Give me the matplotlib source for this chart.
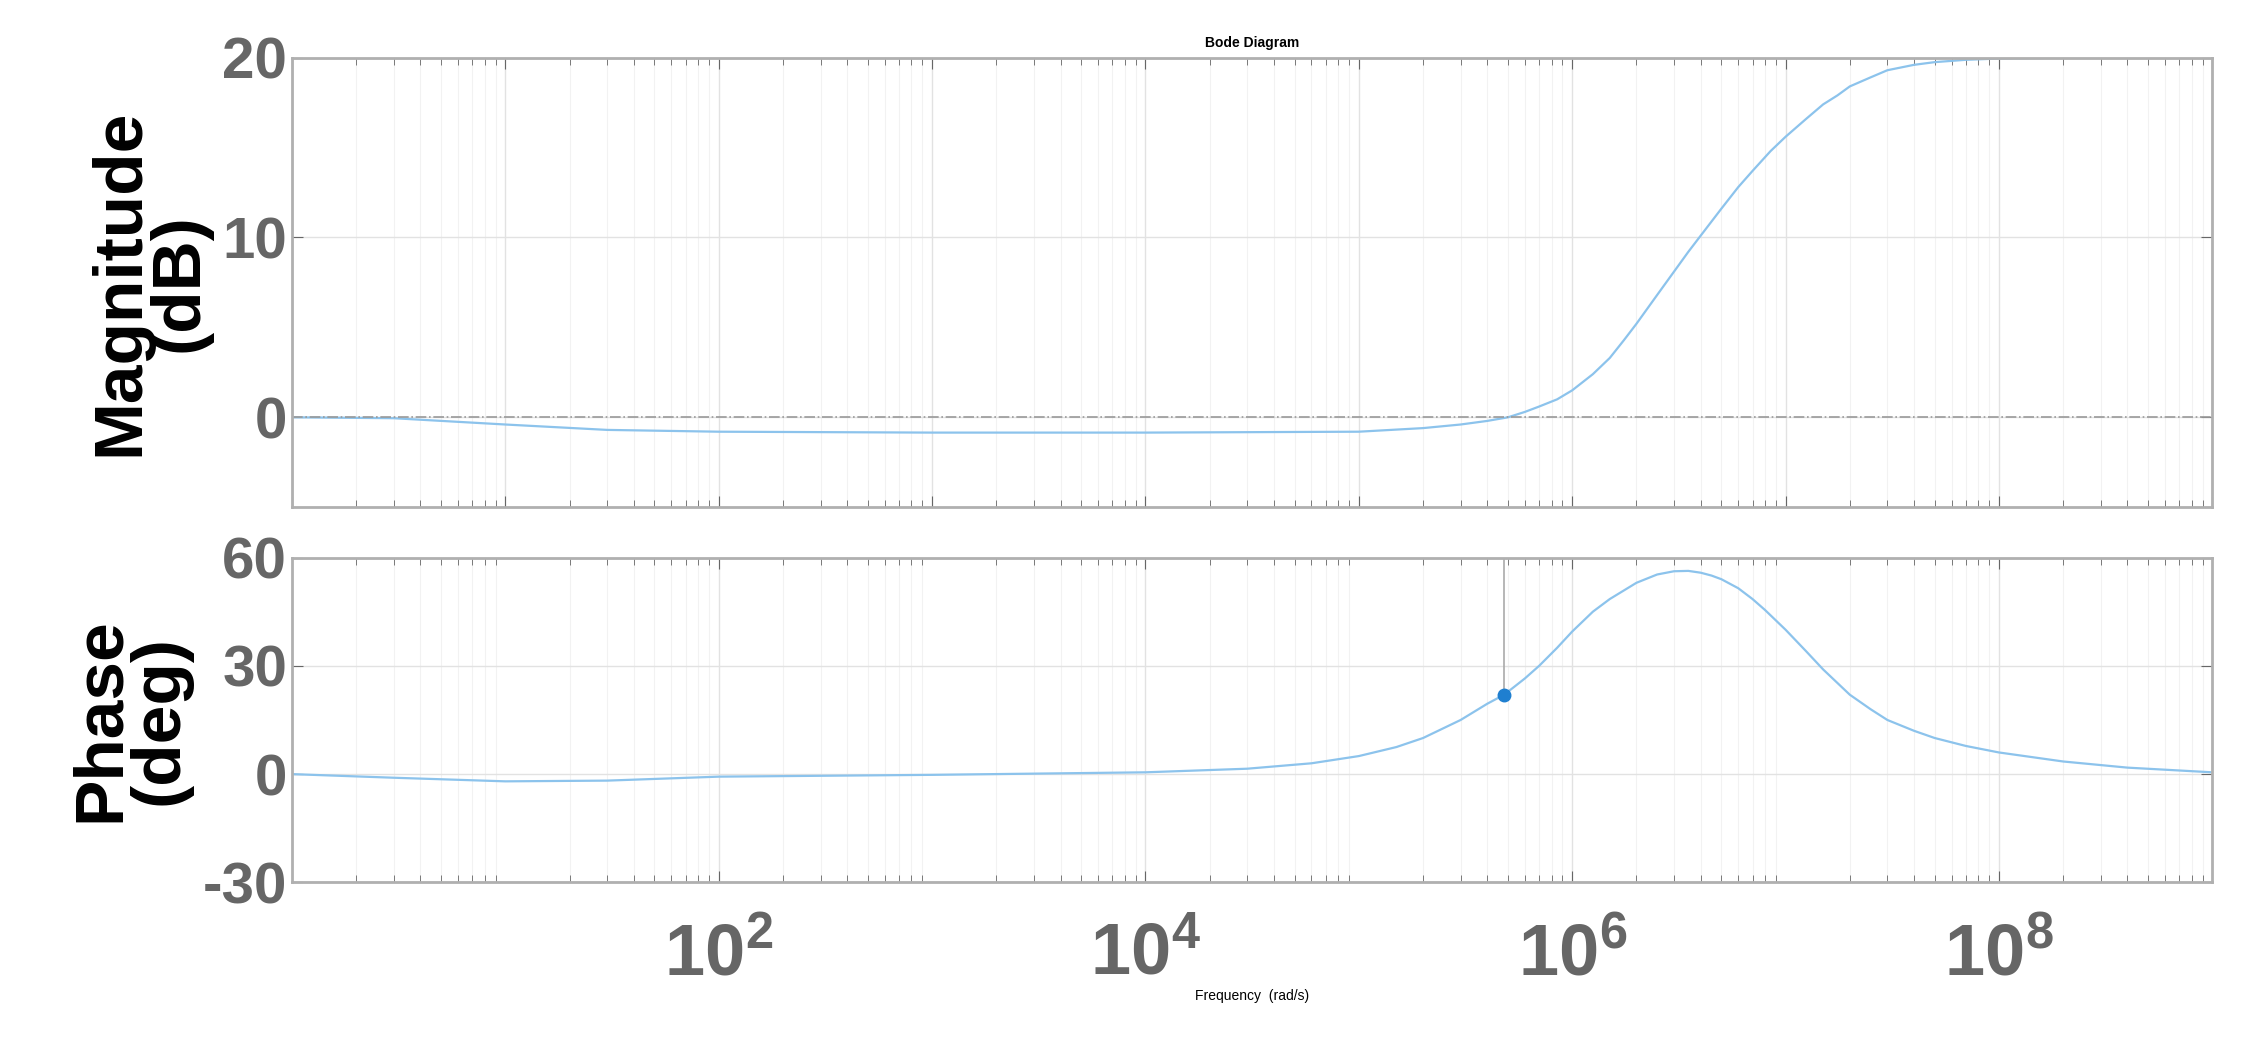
import matplotlib.pyplot as plt
import numpy as np
from matplotlib.ticker import LogLocator, NullFormatter

# Values
mag_freq = [1, 3, 10, 30, 100, 1e3, 1e4, 1e5, 2e5, 3e5, 4e5, 5e5, 6e5, 7e5, 8.5e5, 1e6,
            1.25e6, 1.5e6, 1.75e6, 2e6, 2.5e6, 3e6, 3.5e6, 4e6, 5e6, 6e6, 7e6, 8.5e6,
            1e7, 1.25e7, 1.5e7, 1.75e7, 2e7, 2.5e7, 3e7, 4e7, 5e7, 7e7, 1e8, 2e8, 1e9]
mag_db = [0, -0.05, -0.4, -0.7, -0.8, -0.85, -0.85, -0.8, -0.6, -0.4, -0.2, 0, 0.3, 0.6,
          1.0, 1.5, 2.4, 3.3, 4.3, 5.2, 6.8, 8.1, 9.2, 10.1, 11.6, 12.8, 13.7, 14.8,
          15.6, 16.6, 17.4, 17.9, 18.4, 18.9, 19.3, 19.6, 19.75, 19.88, 19.95, 19.99, 20]
ph_freq = [1, 3, 10, 30, 100, 1e3, 1e4, 3e4, 6e4, 1e5, 1.5e5, 2e5, 3e5, 4e5, 4.8e5, 6e5,
           7e5, 8.5e5, 1e6, 1.25e6, 1.5e6, 2e6, 2.5e6, 3e6, 3.5e6, 4e6, 4.5e6, 5e6, 6e6,
           7e6, 8e6, 1e7, 1.25e7, 1.5e7, 2e7, 2.5e7, 3e7, 4e7, 5e7, 7e7, 1e8, 2e8, 4e8, 1e9]
ph_deg = [0, -1, -2, -1.8, -0.7, -0.2, 0.5, 1.5, 3, 5, 7.5, 10, 15, 19.5, 22, 26.5,
          30, 35, 39.5, 45, 48.5, 53, 55.3, 56.2, 56.3, 55.8, 55, 54, 51.5,
          48.5, 45.5, 40, 34, 29, 22, 18, 15, 12, 10, 7.8, 6, 3.5, 1.8, 0.5]
marker_freq = 4.8e5
marker_deg = 22

plt.rcParams["font.family"] = ["Liberation Sans", "DejaVu Sans"]
plt.rcParams["axes.unicode_minus"] = False
fig = plt.figure(figsize=(22.46, 10.48), dpi=100)
ax1 = fig.add_axes([0.130, 0.516, 0.855, 0.429])
ax2 = fig.add_axes([0.130, 0.158, 0.855, 0.310])
line_color = "#8cc3ec"

for ax in (ax1, ax2):
    ax.set_xscale("log")
    ax.set_xlim(1, 1e9)
    ax.xaxis.set_major_locator(LogLocator(base=10, numticks=20))
    ax.xaxis.set_minor_locator(LogLocator(base=10, subs=np.arange(2, 10), numticks=200))
    ax.xaxis.set_minor_formatter(NullFormatter())
    ax.grid(True, which="major", color="#e2e2e2", linewidth=1.0)
    ax.grid(True, which="minor", axis="x", color="#f2f2f2", linewidth=0.8)
    ax.tick_params(which="both", direction="in", top=True, right=True, colors="#666666",
                   labelsize=42)
    ax.tick_params(which="major", length=8)
    ax.tick_params(which="minor", length=5)
    for sp in ax.spines.values():
        sp.set_color("#b0b0b0")
        sp.set_linewidth(2)

ax1.plot(mag_freq, mag_db, color=line_color, linewidth=1.6)
ax1.axhline(0, color="#999999", linewidth=1.2, linestyle="-.")
ax1.set_ylim(-5, 20)
ax1.set_yticks([0, 10, 20])
ax1.tick_params(labelbottom=False)
ax1.set_ylabel("Magnitude\n(dB)", fontsize=50, fontweight="bold", linespacing=0.9,
               labelpad=8)
ax1.set_title("Bode Diagram", fontsize=10, fontweight="bold", pad=8)

ax2.plot(ph_freq, ph_deg, color=line_color, linewidth=1.6)
ax2.plot([marker_freq, marker_freq], [marker_deg, 60], color="#aaaaaa", linewidth=1.2)
ax2.plot(marker_freq, marker_deg, "o", color="#1f7fd0", markersize=9)
ax2.set_ylim(-30, 60)
ax2.set_yticks([-30, 0, 30, 60])
ax2.set_xticks([1e2, 1e4, 1e6, 1e8])
ax2.set_ylabel("Phase\n(deg)", fontsize=50, fontweight="bold", linespacing=0.9,
               labelpad=8)
ax2.tick_params(axis="x", pad=28, labelsize=52)
ax2.set_xlabel("Frequency  (rad/s)", fontsize=10, labelpad=0)
for ax in (ax1, ax2):
    for lbl in ax.get_xticklabels() + ax.get_yticklabels():
        lbl.set_fontweight("bold")

fig.savefig("out.png", dpi=100)
